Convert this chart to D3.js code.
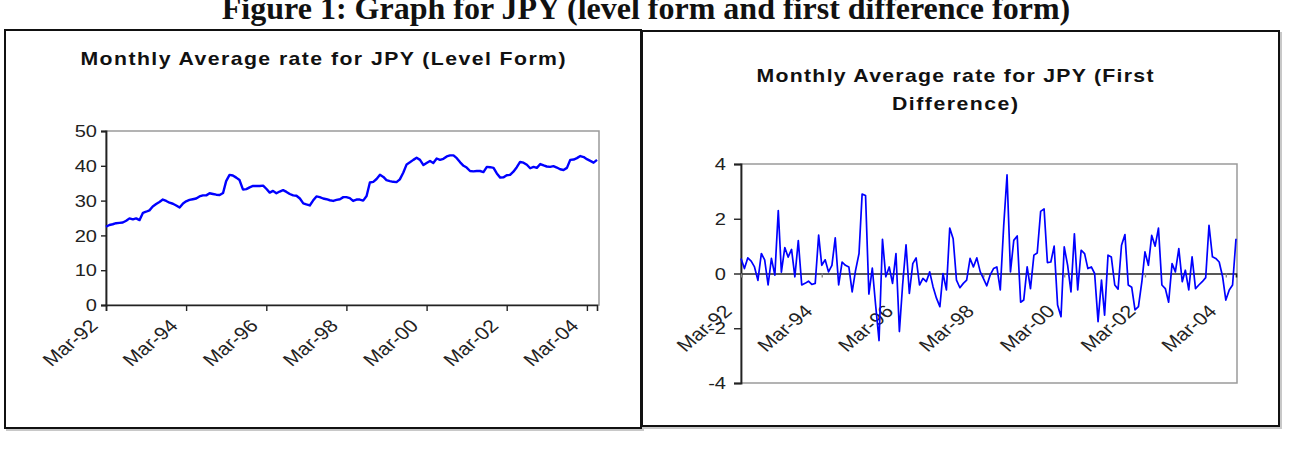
<!DOCTYPE html>
<html>
<head>
<meta charset="utf-8">
<script src="https://cdn.jsdelivr.net/npm/d3@7"></script>
<style>
  body { margin: 0; background: #fff; }
  svg { display: block; font-family: "Liberation Sans", Arial, sans-serif; }
</style>
</head>
<body>
<div id="chart-area"></div>
<script>
// --- data ---
const firstMonth = "Mar-92";
const lastMonth = "Jun-04";
const tickLabels = ["Mar-92", "Mar-94", "Mar-96", "Mar-98", "Mar-00", "Mar-02", "Mar-04"];
const levelTicks = [0, 10, 20, 30, 40, 50];
const diffTicks = [-4, -2, 0, 2, 4];

const levelValues = [
  22.5, 23.0, 23.2, 23.5, 23.6, 23.7, 24.2, 24.9, 24.6, 24.9, 24.4, 26.5,
  26.8, 27.2, 28.3, 29.0, 29.6, 30.3, 29.9, 29.4, 29.1, 28.6, 28.0, 29.2,
  29.8, 30.2, 30.4, 30.6, 31.2, 31.5, 31.5, 32.1, 31.9, 31.7, 31.6, 32.2,
  35.6, 37.4, 37.2, 36.6, 35.9, 33.2, 33.3, 33.8, 34.2, 34.2, 34.2, 34.3,
  33.4, 32.3, 32.8, 32.1, 32.6, 33.0, 32.5, 31.9, 31.5, 31.4, 30.6, 29.2,
  28.9, 28.6, 30.0, 31.2, 31.0, 30.6, 30.4, 30.1, 29.9, 30.2, 30.4, 31.0,
  31.0, 30.7, 29.9, 30.3, 30.3, 30.0, 31.3, 35.2, 35.4, 36.2, 37.4, 36.8,
  35.9, 35.6, 35.4, 35.3, 36.1, 38.0, 40.4, 41.0, 41.7, 42.3, 41.7, 40.2,
  40.8, 41.4, 40.8, 42.1, 41.7, 42.0, 42.7, 43.0, 43.0, 42.2, 41.0, 40.0,
  39.5, 38.5, 38.4, 38.5, 38.5, 38.2, 39.7, 39.6, 39.4, 37.8, 36.6, 36.7,
  37.3, 37.4, 38.3, 39.6, 41.1, 40.9, 40.3, 39.3, 39.7, 39.4, 40.5, 40.1,
  39.8, 39.7, 39.9, 39.5, 39.0, 38.8, 39.4, 41.7, 41.8, 42.2, 42.8, 42.5,
  41.9, 41.4, 40.9, 41.7
];

const diffValues = [
  0.55, 0.18, 0.57, 0.45, 0.24, -0.25, 0.73, 0.5, -0.42, 0.55, -0.06, 2.3,
  0.05, 0.95, 0.6, 0.88, -0.12, 1.2, -0.42, -0.36, -0.28, -0.4, -0.36, 1.4,
  0.3, 0.5, 0.06, 0.3, 1.3, -0.42, 0.42, 0.3, 0.24, -0.67, 0.12, 0.73,
  2.9, 2.85, -0.75, 0.2, -1.15, -2.45, 1.25, -0.12, 0.24, -0.36, 0.73, -2.12,
  -0.42, 1.05, -0.73, 0.36, 0.57, -0.42, -0.18, -0.3, 0.06, -0.48, -0.9, -1.21,
  0.0, -0.6, 1.66, 1.27, -0.24, -0.52, -0.36, -0.24, 0.55, 0.24, 0.57, 0.06,
  -0.18, -0.45, -0.06, 0.18, 0.24, -0.6, 1.75, 3.6, 0.06, 1.21, 1.37, -1.05,
  -0.97, 0.24, -0.55, 0.67, 0.75, 2.27, 2.36, 0.4, 0.42, 1.0, -1.15, -1.58,
  0.97, 0.3, -0.67, 1.45, -0.6, 0.85, 0.73, 0.18, 0.24, 0.0, -1.76, -0.24,
  -1.52, 0.67, 0.6, -0.42, -0.57, 1.03, 1.42, -0.42, -0.5, -1.33, -1.21, -0.3,
  0.79, 0.3, 1.39, 1.0, 1.66, -0.42, -0.55, -1.05, 0.36, 0.06, 0.91, -0.3,
  0.12, -0.6, 0.61, -0.55, -0.42, -0.3, -0.15, 1.76, 0.61, 0.55, 0.42, -0.12,
  -0.97, -0.6, -0.42, 1.27
];

const parseMonth = d3.timeParse("%b-%y");
const months = d3.timeMonth.range(parseMonth(firstMonth), d3.timeMonth.offset(parseMonth(lastMonth), 1));
const tickDates = tickLabels.map(parseMonth);

// the source picture is stretched sideways, so text is widened a bit
const stretch = 1.18;

const svg = d3.select("#chart-area")
  .append("svg")
  .attr("width", 1293)
  .attr("height", 455);

svg.append("text")
  .attr("x", 646)
  .attr("y", 19)
  .attr("text-anchor", "middle")
  .style("font-family", "'Liberation Serif', 'Times New Roman', serif")
  .style("font-weight", "bold")
  .style("font-size", "32px")
  .style("fill", "#111")
  .text("Figure 1: Graph for JPY (level form and first difference form)");

const drawPanel = function(cfg) {
  const g = svg.append("g");

  // outer chart box with a faint shadow
  g.append("rect")
    .attr("x", cfg.box[0] + 2).attr("y", cfg.box[1] + 2)
    .attr("width", cfg.box[2]).attr("height", cfg.box[3])
    .attr("fill", "none").attr("stroke", "#c8c8c8").attr("stroke-width", 2);
  g.append("rect")
    .attr("x", cfg.box[0]).attr("y", cfg.box[1])
    .attr("width", cfg.box[2]).attr("height", cfg.box[3])
    .attr("fill", "#fff").attr("stroke", "#111").attr("stroke-width", 2);

  cfg.title.forEach((line, i) => {
    g.append("text")
      .attr("transform", `translate(${cfg.titleX},${cfg.titleY + i * 28}) scale(${stretch},1)`)
      .attr("text-anchor", "middle")
      .attr("textLength", line[1] / stretch)
      .attr("lengthAdjust", "spacing")
      .style("font-weight", "bold")
      .style("font-size", "18px")
      .style("fill", "#111")
      .text(line[0]);
  });

  const [left, top, right, bottom] = cfg.plot;

  const x = d3.scaleTime()
    .domain(d3.extent(months))
    .range([left, cfg.lastX]);

  const y = d3.scaleLinear()
    .domain(d3.extent(cfg.yTicks))
    .range([bottom, top]);

  // plot area frame (gray)
  g.append("rect")
    .attr("x", left).attr("y", top)
    .attr("width", right - left).attr("height", bottom - top)
    .attr("fill", "none").attr("stroke", "#9a9a9a").attr("stroke-width", 1.5);

  const yAxis = d3.axisLeft(y)
    .tickValues(cfg.yTicks)
    .tickSize(cfg.yTickSize)
    .tickFormat("");

  const ya = g.append("g")
    .attr("class", "y axis")
    .attr("transform", `translate(${left},0)`)
    .call(yAxis);
  ya.select(".domain").attr("stroke", "#222").attr("stroke-width", 1.8);
  ya.selectAll(".tick line").attr("stroke", "#222").attr("stroke-width", 1.4);

  g.selectAll(".y-label")
    .data(cfg.yTicks)
    .enter()
    .append("text")
    .attr("class", "y-label")
    .attr("transform", d => `translate(${cfg.yLabelX},${y(d)}) scale(${stretch},1)`)
    .attr("dy", "0.36em")
    .attr("text-anchor", "end")
    .style("font-size", "17px")
    .style("fill", "#222")
    .text(d => String(d));

  const axisY = y(cfg.xAxisAt);
  const xAxis = d3.axisBottom(x)
    .tickValues(tickDates)
    .tickSize(cfg.xTickSize)
    .tickFormat("");

  const xa = g.append("g")
    .attr("class", "x axis")
    .attr("transform", `translate(0,${axisY})`)
    .call(xAxis);
  xa.select(".domain").attr("stroke", "#222").attr("stroke-width", 1.6);
  xa.selectAll(".tick line").attr("stroke", cfg.xTickColor).attr("stroke-width", 1.4);

  g.selectAll(".x-label")
    .data(tickDates)
    .enter()
    .append("text")
    .attr("class", "x-label")
    .attr("transform", d => `translate(${x(d) + cfg.labelDx},${axisY + cfg.labelDy}) scale(${stretch},1) rotate(-45)`)
    .attr("text-anchor", "end")
    .style("font-size", "18px")
    .style("fill", "#222")
    .text((d, i) => tickLabels[i]);

  const line = d3.line()
    .x((v, i) => x(months[i]))
    .y(v => y(v));

  g.append("path")
    .datum(cfg.values)
    .attr("d", line)
    .attr("fill", "none")
    .attr("stroke", "#0000ff")
    .attr("stroke-width", cfg.lineWidth)
    .attr("stroke-linejoin", "round");
};

drawPanel({
  box: [5, 30, 636, 398],
  title: [["Monthly Average rate for JPY (Level Form)", 485]],
  titleX: 323,
  titleY: 65,
  plot: [106, 131, 599, 305],
  lastX: 597,
  yTicks: levelTicks,
  yTickSize: 5,
  yLabelX: 97,
  xAxisAt: 0,
  xTickSize: 6,
  xTickColor: "#222",
  labelDx: -7,
  labelDy: 22,
  values: levelValues,
  lineWidth: 2.4
});

drawPanel({
  box: [642, 31, 637, 395],
  title: [["Monthly Average rate for JPY (First", 397], ["Difference)", 126]],
  titleX: 955,
  titleY: 82,
  plot: [741, 164, 1237, 383],
  lastX: 1236,
  yTicks: diffTicks,
  yTickSize: 7,
  yLabelX: 726,
  xAxisAt: 0,
  xTickSize: 4,
  xTickColor: "#888",
  labelDx: -8,
  labelDy: 39,
  values: diffValues,
  lineWidth: 1.7
});
</script>
</body>
</html>
